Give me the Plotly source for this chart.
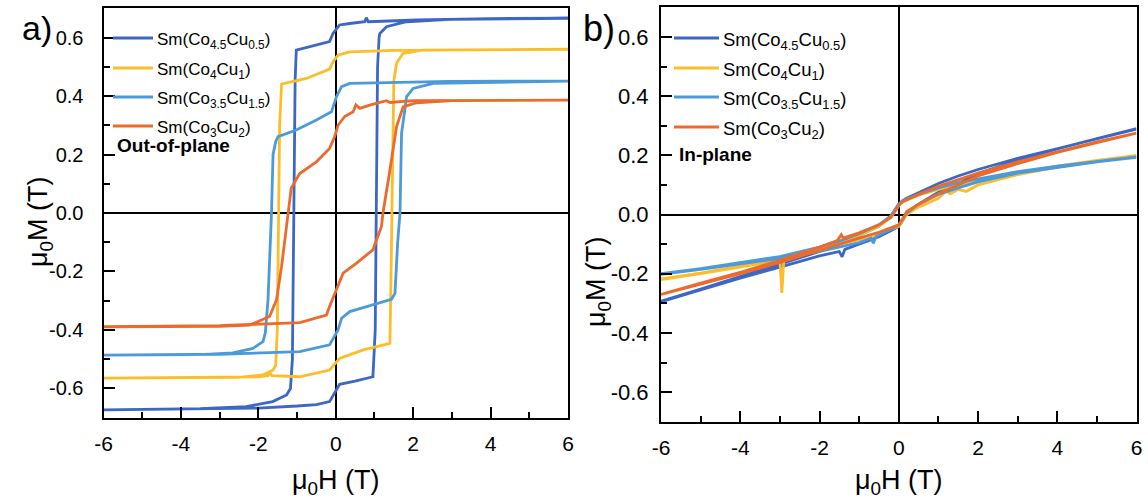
import plotly.graph_objects as go

W, H = 1148, 500

# ---------------- data ----------------
SERIES_NAMES = ["Sm(Co<sub>4.5</sub>Cu<sub>0.5</sub>)", "Sm(Co<sub>4</sub>Cu<sub>1</sub>)",
                "Sm(Co<sub>3.5</sub>Cu<sub>1.5</sub>)", "Sm(Co<sub>3</sub>Cu<sub>2</sub>)"]
COLORS = ["#3c67c5", "#fbbd2a", "#4c9ad8", "#ec6b2c"]

X_TICKS = [-6, -4, -2, 0, 2, 4, 6]
X_TICK_LABELS = ["-6", "-4", "-2", "0", "2", "4", "6"]
X_MINOR = [-5, -3, -1, 1, 3, 5]
Y_TICKS = [-0.6, -0.4, -0.2, 0.0, 0.2, 0.4, 0.6]
Y_TICK_LABELS = ["-0.6", "-0.4", "-0.2", "0.0", "0.2", "0.4", "0.6"]
Y_MINOR = [-0.5, -0.3, -0.1, 0.1, 0.3, 0.5]

# Panel a) out-of-plane loops: descending (+6 -> -6) then ascending (-6 -> +6)
A1_DESC_H = [6, 4, 2.1, 1.2, 0.84, 0.79, 0.75, 0.36, 0.1, 0.02, -0.07, -0.16, -0.41, -1.02, -1.05, -1.08, -1.12, -1.17, -1.27, -1.63, -2.31, -3.5, -6]
A1_DESC_M = [0.666, 0.665, 0.66, 0.657, 0.654, 0.668, 0.654, 0.648, 0.643, 0.63, 0.614, 0.586, 0.578, 0.557, 0.45, 0.0, -0.5, -0.6, -0.622, -0.645, -0.662, -0.669, -0.673]
A1_ASC_H = [-6, -4, -2, -1, -0.5, -0.16, -0.03, 0.02, 0.1, 0.5, 0.96, 1.02, 1.05, 1.08, 1.12, 1.14, 1.31, 1.83, 2.95, 6]
A1_ASC_M = [-0.673, -0.671, -0.667, -0.66, -0.655, -0.645, -0.616, -0.605, -0.586, -0.575, -0.56, -0.4, 0.0, 0.5, 0.6, 0.614, 0.637, 0.654, 0.662, 0.666]

A2_DESC_H = [6, 3, 1.5, 0.36, 0.06, -0.07, -0.16, -0.76, -1.4, -1.45, -1.48, -1.51, -1.55, -1.62, -1.88, -2.5, -6]
A2_DESC_M = [0.56, 0.559, 0.556, 0.551, 0.54, 0.517, 0.492, 0.46, 0.441, 0.3, 0.0, -0.4, -0.52, -0.537, -0.554, -0.562, -0.565]
A2_ASC_H = [-6, -3, -2, -1.75, -1.7, -1.65, -0.93, -0.16, 0.1, 0.71, 1.4, 1.43, 1.47, 1.5, 1.57, 1.74, 2.26, 6]
A2_ASC_M = [-0.565, -0.563, -0.56, -0.556, -0.546, -0.556, -0.56, -0.537, -0.497, -0.468, -0.446, -0.2, 0.2, 0.45, 0.512, 0.546, 0.557, 0.56]

A3_DESC_H = [6, 2.95, 0.36, 0.15, 0.02, -0.11, -0.5, -1.02, -1.49, -1.55, -1.62, -1.66, -1.75, -1.82, -1.88, -2.14, -2.66, -3.5, -6]
A3_DESC_M = [0.451, 0.45, 0.443, 0.432, 0.398, 0.346, 0.318, 0.284, 0.261, 0.245, 0.2, 0.0, -0.297, -0.41, -0.44, -0.463, -0.478, -0.484, -0.486]
A3_ASC_H = [-6, -3, -0.93, -0.16, 0.06, 0.15, 0.36, 0.96, 1.44, 1.53, 1.6, 1.66, 1.7, 1.83, 2.0, 2.52, 6]
A3_ASC_M = [-0.486, -0.483, -0.474, -0.451, -0.4, -0.36, -0.337, -0.315, -0.295, -0.275, -0.1, 0.0, 0.272, 0.398, 0.426, 0.443, 0.451]

A4_DESC_H = [6, 2.95, 2.0, 1.4, 1.31, 0.9, 0.62, 0.52, 0.45, 0.23, 0.06, -0.03, -0.16, -0.5, -0.93, -1.15, -1.23, -1.4, -1.53, -1.71, -2.22, -3, -6]
A4_DESC_M = [0.386, 0.386, 0.384, 0.378, 0.384, 0.37, 0.358, 0.37, 0.346, 0.33, 0.3, 0.261, 0.221, 0.175, 0.135, 0.085, 0.0, -0.183, -0.297, -0.354, -0.383, -0.388, -0.389]
A4_ASC_H = [-6, -3, -0.93, -0.24, -0.16, 0.02, 0.19, 0.53, 0.96, 1.18, 1.22, 1.4, 1.57, 1.74, 2.09, 3, 6]
A4_ASC_M = [-0.389, -0.385, -0.375, -0.349, -0.32, -0.263, -0.206, -0.172, -0.126, -0.047, 0.0, 0.147, 0.295, 0.363, 0.377, 0.384, 0.386]

# Panel b) in-plane loops
B1_DESC_H = [6, 5, 4, 3, 2, 1.5, 1, 0.5, 0.2, 0.1, 0, -0.1, -0.2, -0.5, -1, -1.5, -2, -3, -4, -5, -6]
B1_DESC_M = [0.288, 0.255, 0.222, 0.19, 0.152, 0.13, 0.105, 0.075, 0.055, 0.047, 0.035, 0.015, -0.005, -0.04, -0.07, -0.1, -0.125, -0.168, -0.21, -0.252, -0.293]
B1_ASC_H = [-6, -5, -4, -3, -2, -1.5, -1.43, -1.36, -1, -0.5, -0.2, 0, 0.1, 0.2, 0.5, 1, 1.5, 2, 3, 4, 5, 6]
B1_ASC_M = [-0.295, -0.255, -0.215, -0.178, -0.14, -0.125, -0.143, -0.118, -0.1, -0.075, -0.055, -0.04, -0.02, 0.005, 0.035, 0.075, 0.105, 0.138, 0.183, 0.222, 0.256, 0.29]

B2_DESC_H = [6, 5, 4, 3, 2, 1.5, 1, 0.5, 0.2, 0.1, 0, -0.1, -0.2, -0.5, -1, -1.5, -2, -3, -4, -5, -6]
B2_DESC_M = [0.2, 0.183, 0.163, 0.14, 0.115, 0.1, 0.085, 0.065, 0.05, 0.043, 0.03, 0.01, -0.01, -0.04, -0.07, -0.095, -0.115, -0.15, -0.175, -0.198, -0.218]
B2_ASC_H = [-6, -5, -4, -3.0, -2.95, -2.9, -2, -1.5, -1, -0.5, -0.2, 0, 0.1, 0.2, 0.5, 1, 1.2, 1.3, 1.5, 1.7, 2, 3, 4, 5, 6]
B2_ASC_M = [-0.22, -0.2, -0.178, -0.155, -0.265, -0.153, -0.12, -0.1, -0.085, -0.065, -0.05, -0.04, -0.02, 0.0, 0.025, 0.055, 0.08, 0.07, 0.085, 0.078, 0.1, 0.135, 0.16, 0.18, 0.198]

B3_DESC_H = [6, 5, 4, 3, 2, 1.5, 1, 0.5, 0.2, 0.1, 0, -0.1, -0.2, -0.5, -1, -1.5, -2, -3, -4, -5, -6]
B3_DESC_M = [0.195, 0.18, 0.163, 0.145, 0.122, 0.108, 0.09, 0.068, 0.052, 0.046, 0.035, 0.015, -0.005, -0.035, -0.065, -0.09, -0.11, -0.142, -0.163, -0.183, -0.2]
B3_ASC_H = [-6, -5, -4, -3, -2, -1.5, -1, -0.7, -0.64, -0.58, -0.5, -0.2, 0, 0.1, 0.2, 0.5, 1, 1.5, 2, 3, 4, 5, 6]
B3_ASC_M = [-0.202, -0.185, -0.167, -0.148, -0.125, -0.11, -0.095, -0.08, -0.097, -0.075, -0.07, -0.05, -0.035, -0.015, 0.005, 0.035, 0.068, 0.09, 0.11, 0.14, 0.16, 0.178, 0.193]

B4_DESC_H = [6, 5, 4, 3, 2, 1.5, 1, 0.5, 0.2, 0.1, 0, -0.1, -0.2, -0.5, -1, -1.4, -1.45, -1.55, -2, -3, -4, -5, -6]
B4_DESC_M = [0.275, 0.245, 0.212, 0.178, 0.14, 0.118, 0.095, 0.068, 0.05, 0.043, 0.03, 0.01, -0.01, -0.035, -0.062, -0.08, -0.068, -0.088, -0.11, -0.155, -0.195, -0.232, -0.268]
B4_ASC_H = [-6, -5, -4, -3, -2, -1.5, -1, -0.5, -0.2, 0, 0.1, 0.2, 0.5, 1, 1.5, 2, 3, 4, 5, 6]
B4_ASC_M = [-0.27, -0.235, -0.2, -0.162, -0.12, -0.1, -0.08, -0.06, -0.045, -0.035, -0.015, 0.01, 0.035, 0.07, 0.1, 0.13, 0.172, 0.21, 0.243, 0.275]

PANEL_A = [(A1_DESC_H, A1_DESC_M, A1_ASC_H, A1_ASC_M), (A2_DESC_H, A2_DESC_M, A2_ASC_H, A2_ASC_M),
           (A3_DESC_H, A3_DESC_M, A3_ASC_H, A3_ASC_M), (A4_DESC_H, A4_DESC_M, A4_ASC_H, A4_ASC_M)]
PANEL_B = [(B1_DESC_H, B1_DESC_M, B1_ASC_H, B1_ASC_M), (B2_DESC_H, B2_DESC_M, B2_ASC_H, B2_ASC_M),
           (B3_DESC_H, B3_DESC_M, B3_ASC_H, B3_ASC_M), (B4_DESC_H, B4_DESC_M, B4_ASC_H, B4_ASC_M)]

# ---------------- layout helpers ----------------
FONT = "Liberation Sans, Arial, sans-serif"


def px_x(p):
    return p / W


def px_y(p):
    return 1 - p / H


fig = go.Figure()

for panel, (xa, ya) in ((PANEL_A, ("x", "y")), (PANEL_B, ("x2", "y2"))):
    for (dh, dm, ah, am), color, name in zip(panel, COLORS, SERIES_NAMES):
        fig.add_trace(go.Scatter(x=list(dh) + list(ah), y=list(dm) + list(am), mode="lines",
                                 line=dict(color=color, width=2.8), name=name, showlegend=False,
                                 xaxis=xa, yaxis=ya))

# panel geometry (pixels)
PA = dict(l=103.5, r=568, t=8.3, b=417.7)
PB = dict(l=661, r=1136.5, t=7.3, b=421.7)


def main_x(p, anchor):
    return dict(domain=[px_x(p["l"]), px_x(p["r"])], range=[-6, 6], anchor=anchor, automargin=False,
                tickmode="array", tickvals=X_TICKS, ticktext=X_TICK_LABELS,
                ticks="inside", ticklen=11, tickwidth=2, tickcolor="black",
                minor=dict(tickvals=X_MINOR, ticks="inside", ticklen=6, tickwidth=2, tickcolor="black"),
                showline=True, linewidth=2, linecolor="black", mirror=True,
                zeroline=True, zerolinecolor="black", zerolinewidth=2, showgrid=False,
                tickfont=dict(family=FONT, size=21, color="black"), ticklabelstandoff=6, fixedrange=True)


def main_y(p, anchor, size, standoff):
    return dict(domain=[px_y(p["b"]), px_y(p["t"])], range=[-0.7, 0.7], anchor=anchor, automargin=False,
                tickmode="array", tickvals=Y_TICKS, ticktext=Y_TICK_LABELS,
                ticks="inside", ticklen=11, tickwidth=2, tickcolor="black",
                minor=dict(tickvals=Y_MINOR, ticks="inside", ticklen=6, tickwidth=2, tickcolor="black"),
                showline=True, linewidth=2, linecolor="black", mirror=True,
                zeroline=True, zerolinecolor="black", zerolinewidth=2, showgrid=False,
                tickfont=dict(family=FONT, size=size, color="black"), ticklabelstandoff=standoff, fixedrange=True)


def top_x(over, anchor):
    return dict(overlaying=over, side="top", anchor=anchor, range=[-6, 6], tickmode="linear", tick0=0, dtick=1,
                automargin=False, ticks="inside", ticklen=7, tickwidth=2, tickcolor="black", showticklabels=False,
                showline=False, zeroline=False, showgrid=False, fixedrange=True)


def right_y(over, anchor):
    return dict(overlaying=over, side="right", anchor=anchor, range=[-0.7, 0.7], tickmode="linear", tick0=0, dtick=0.1,
                automargin=False, ticks="inside", ticklen=10, tickwidth=2, tickcolor="black", showticklabels=False,
                showline=False, zeroline=False, showgrid=False, fixedrange=True)


annotations = []
shapes = []


def text(x, y, s, size, xanchor="left", angle=0, yanchor="middle"):
    annotations.append(dict(x=px_x(x), y=px_y(y), xref="paper", yref="paper", text=s, showarrow=False,
                            xanchor=xanchor, yanchor=yanchor, textangle=angle,
                            font=dict(family=FONT, size=size, color="black")))


# panel labels
text(20, 28, "a)", 34)
text(581, 28, "b)", 36)

# axis titles
AX_TITLE = "\u03bc<sub>0</sub>H (T)"
AY_TITLE = "\u03bc<sub>0</sub>M (T)"
text(336, 482, AX_TITLE, 27, xanchor="center")
text(899, 482, AX_TITLE, 27, xanchor="center")
text(40, 222, AY_TITLE, 27, xanchor="center", angle=-90)
text(598, 282, AY_TITLE, 27, xanchor="center", angle=-90)

# legends (custom, drawn as shapes + text)
LEG_ROWS_A = [38, 68, 97, 126]
LEG_ROWS_B = [38, 68, 97, 127]
for yrow, color, name in zip(LEG_ROWS_A, COLORS, SERIES_NAMES):
    shapes.append(dict(type="line", xref="paper", yref="paper", x0=px_x(113), x1=px_x(153),
                       y0=px_y(yrow), y1=px_y(yrow), line=dict(color=color, width=2.8)))
    text(155, yrow + 3, name, 17)
for yrow, color, name in zip(LEG_ROWS_B, COLORS, SERIES_NAMES):
    shapes.append(dict(type="line", xref="paper", yref="paper", x0=px_x(674), x1=px_x(719),
                       y0=px_y(yrow), y1=px_y(yrow), line=dict(color=color, width=2.8)))
    text(721, yrow + 3, name, 18.5)

text(115, 145, "<b>Out-of-plane</b>", 19)
text(677, 154, "<b>In-plane</b>", 19)

fig.update_layout(
    width=W, height=H, autosize=False,
    margin=dict(l=0, r=0, t=0, b=0, pad=0),
    paper_bgcolor="white", plot_bgcolor="white",
    showlegend=False,
    xaxis=main_x(PA, "y"), yaxis=main_y(PA, "x", 20, 14),
    xaxis2=main_x(PB, "y2"), yaxis2=main_y(PB, "x2", 22, 6),
    xaxis3=top_x("x", "y"), yaxis3=right_y("y", "x"),
    xaxis4=top_x("x2", "y2"), yaxis4=right_y("y2", "x2"),
    annotations=annotations, shapes=shapes,
)

fig.write_html("out.html", config=dict(displayModeBar=False, staticPlot=True))
